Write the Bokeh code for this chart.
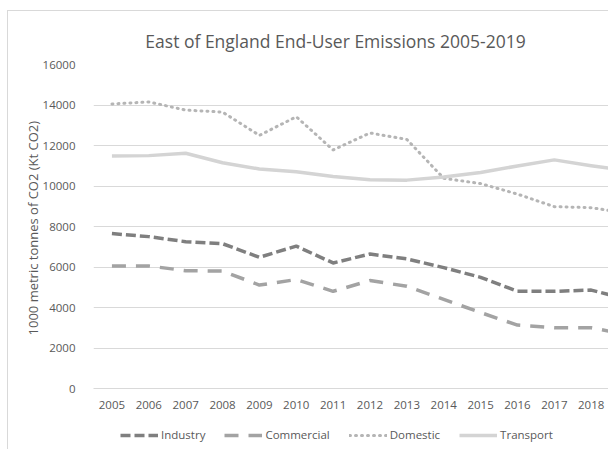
from bokeh.plotting import figure
from bokeh.layouts import column
from bokeh.models import FixedTicker, Label, Legend, LegendItem, Range1d
from bokeh.embed import file_html
from bokeh.resources import INLINE

# East of England end-user CO2 emissions, 1000 metric tonnes (kt CO2)
years = [2005, 2006, 2007, 2008, 2009, 2010, 2011, 2012, 2013, 2014, 2015, 2016, 2017, 2018, 2019]
industry = [7650, 7500, 7250, 7150, 6480, 7030, 6200, 6640, 6400, 5970, 5490, 4800, 4800, 4860, 4400]
commercial = [6050, 6050, 5820, 5800, 5110, 5380, 4800, 5330, 5050, 4400, 3750, 3130, 3000, 3000, 2650]
domestic = [14050, 14150, 13750, 13650, 12500, 13420, 11780, 12620, 12300, 10380, 10120, 9600, 8980, 8930, 8650]
transport = [11480, 11500, 11620, 11150, 10840, 10700, 10470, 10310, 10290, 10440, 10670, 10990, 11290, 11000, 10750]
y_ticks = [0, 2000, 4000, 6000, 8000, 10000, 12000, 14000, 16000]

series_names = ["Industry", "Commercial", "Domestic", "Transport"]
series_values = [industry, commercial, domestic, transport]
chart_title = "East of England End-User Emissions 2005-2019"

FONT = "Open Sans"
TEXT = "#595959"
GRID = "#d9d9d9"

# line style per series
STYLES = {
    "Industry": dict(line_color="#7f7f7f", line_width=3.5, line_dash="10 4", line_join="round"),
    "Commercial": dict(line_color="#a3a3a3", line_width=3.5, line_dash="14 10", line_join="round"),
    "Domestic": dict(line_color="#b5b5b5", line_width=3, line_dash="1 5",
                     line_cap="round", line_join="round"),
    "Transport": dict(line_color="#d4d4d4", line_width=3.5, line_join="round"),
}


def strip(height, x_range=(0, 1), y_range=(0, 1)):
    """Axis-free band whose frame lines up with the chart frame."""
    s = figure(
        width=600, height=height,
        output_backend="svg", toolbar_location=None,
        x_range=Range1d(*x_range), y_range=Range1d(*y_range),
        x_axis_type=None, y_axis_type=None,
        min_border=0,
    )
    s.outline_line_color = None
    s.grid.grid_line_color = None
    s.background_fill_color = "white"
    s.border_fill_color = "white"
    return s


# title band: x in pixels across the frame (93..608), y in pixels from the band bottom
head = strip(45, x_range=(93, 608), y_range=(0, 45))
head.add_layout(Label(
    x=335, y=15.5, text=chart_title,
    text_align="center", text_baseline="alphabetic",
    text_font=FONT, text_font_size="17.5px", text_color=TEXT,
))

# main chart
p = figure(
    width=600, height=357,
    output_backend="svg", toolbar_location=None,
    x_range=Range1d(2004.5, 2018.47), y_range=Range1d(0, 16000),
    min_border_left=85, min_border_right=0, min_border_top=8, min_border_bottom=25,
)
p.outline_line_color = None
p.background_fill_color = "white"
p.border_fill_color = "white"

p.xaxis.ticker = FixedTicker(ticks=years)
p.yaxis.ticker = FixedTicker(ticks=y_ticks)
for ax in (p.xaxis[0], p.yaxis[0]):
    ax.major_label_text_font = FONT
    ax.major_label_text_font_size = "11.5px"
    ax.major_label_text_color = TEXT
    ax.major_tick_line_color = None
    ax.minor_tick_line_color = None
p.xaxis.axis_line_color = GRID
p.yaxis.axis_line_color = None
p.xaxis.major_label_standoff = 6
p.yaxis.major_label_standoff = 12
p.yaxis.axis_label = "1000 metric tonnes of CO2  (Kt CO2)"
p.yaxis.axis_label_text_font = FONT
p.yaxis.axis_label_text_font_size = "13px"
p.yaxis.axis_label_text_font_style = "normal"
p.yaxis.axis_label_text_color = TEXT
p.yaxis.axis_label_standoff = -2

p.xgrid.grid_line_color = None
p.ygrid.grid_line_color = GRID
p.ygrid.grid_line_width = 1

for name, vals in zip(series_names, series_values):
    p.line(years, vals, **STYLES[name])

# legend band under the year labels
leg = strip(36)
items = []
for name in series_names:
    # swatch-only renderer, kept outside the visible range
    r = leg.line(x=[5, 6], y=[5, 5], **STYLES[name])
    items.append(LegendItem(label=name, renderers=[r]))

legend = Legend(
    items=items,
    orientation="horizontal",
    location=(27, 7),
    glyph_width=38, glyph_height=14,
    label_standoff=3, spacing=19,
    padding=0, margin=0,
    border_line_color=None, background_fill_alpha=0,
    label_text_font=FONT, label_text_font_size="11.5px", label_text_color=TEXT,
)
leg.add_layout(legend)

layout = column(head, p, leg, spacing=0)
layout.styles = {
    "margin-left": "7px", "margin-top": "10px",
    "border-left": "1px solid #d9d9d9", "border-top": "1px solid #d9d9d9",
}

open("out.html", "w").write(file_html(layout, INLINE))
